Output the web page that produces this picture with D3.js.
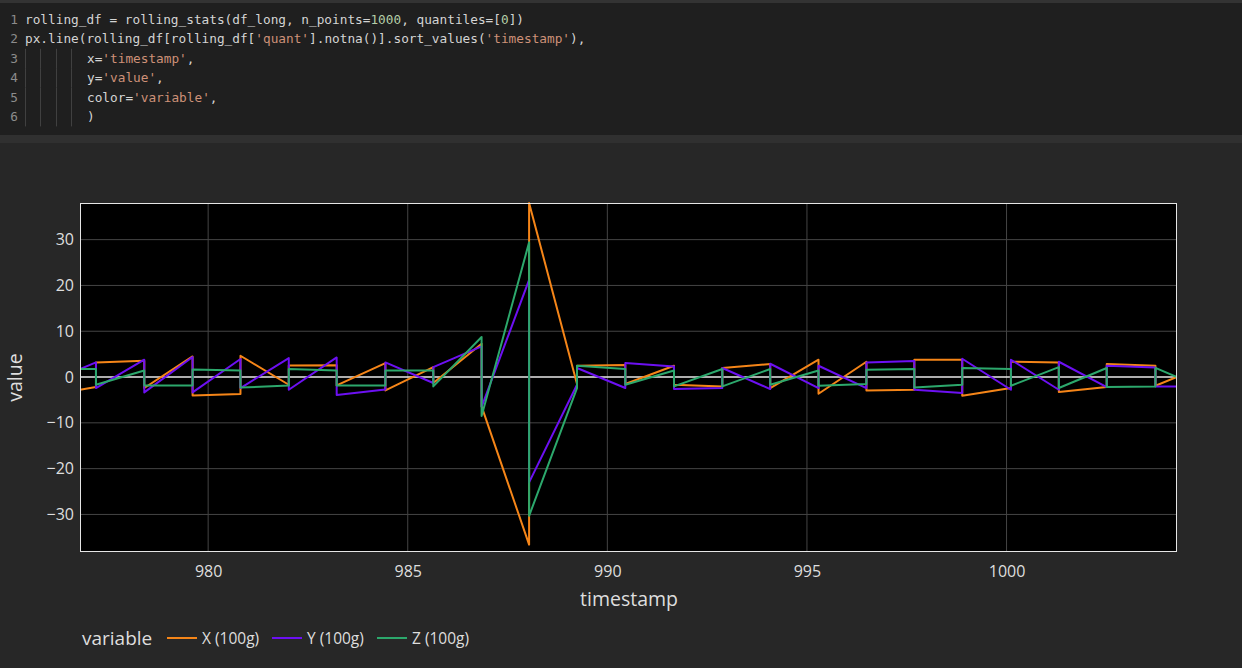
<!DOCTYPE html>
<html>
<head>
<meta charset="utf-8">
<script src="https://cdn.jsdelivr.net/npm/d3@7"></script>
<style>
  html, body { margin: 0; padding: 0; background: #1f1f1f; }
  svg { display: block; }
</style>
</head>
<body>
<svg id="chart" width="1242" height="668"></svg>
<script>
// ---------- data ----------
const codeLines = [
  [["rolling_df = rolling_stats(df_long, n_points=", "t"], ["1000", "n"], [", quantiles=[", "t"], ["0", "n"], ["])", "t"]],
  [["px.line(rolling_df[rolling_df[", "t"], ["'quant'", "s"], ["].notna()].sort_values(", "t"], ["'timestamp'", "s"], ["),", "t"]],
  [["x=", "t"], ["'timestamp'", "s"], [",", "t"]],
  [["y=", "t"], ["'value'", "s"], [",", "t"]],
  [["color=", "t"], ["'variable'", "s"], [",", "t"]],
  [[")", "t"]]
];
const codeIndent = [0, 0, 1, 1, 1, 1];

const seriesNames = ["X (100g)", "Y (100g)", "Z (100g)"];
const timestamps = [976.79, 977.19, 978.40, 979.61, 980.81, 982.02, 983.22, 984.44, 985.64, 986.85,
  988.04, 989.24, 990.45, 991.67, 992.88, 994.08, 995.29, 996.49, 997.69, 998.89,
  1000.11, 1001.31, 1002.51, 1003.73, 1004.27];
// values per timestamp (two values where the line jumps at one timestamp)
const xValues = [[-2.77], [-2.18, 3.19], [3.56, -2.40], [4.5, -4.01], [-3.71, 4.65], [-1.68, 2.54],
  [2.6, -1.83], [3.05, -2.92], [2.18, -1.31], [7.27, -6.4], [-36.6, 38.0], [-1.5, 2.47],
  [2.62, -1.53], [2.47, -1.68], [-2.04, 1.97], [2.84, -2.40], [3.78, -3.65], [3.34, -2.92],
  [-2.77, 3.78], [3.78, -4.08], [-2.4, 3.34], [3.19, -3.28], [-2.18, 2.84], [2.47, -1.9], [0]];
const yValues = [[1.75], [3.19, -2.40], [3.78, -3.36], [4.37, -3.36], [3.93, -2.40], [4.15, -2.77],
  [4.28, -3.93], [-2.70, 3.19], [-1.31, 2.18], [6.68, -6.5], [21.2, -23.0], [-1.68, 1.97],
  [-2.40, 3.05], [2.32, -2.62], [-2.40, 1.97], [-2.62, 2.9], [-2.40, 2.47], [-2.40, 3.19],
  [3.49, -2.77], [-3.49, 4.0], [-2.77, 3.78], [-2.77, 3.34], [-2.18, 2.47], [2.1, -2.04], [-2.04]];
const zValues = [[1.75], [1.75, -1.68], [1.44, -1.83], [-1.83, 1.66], [1.44, -2.3], [-1.83, 1.75],
  [1.44, -1.83], [-1.83, 1.44], [1.44, -2.04], [8.73, -8.5], [29.4, -30.3], [-2.4, 2.47],
  [1.75, -1.68], [1.44, -2.04], [1.75, -2.04], [1.75, -1.68], [1.44, -1.9], [-1.53, 1.59],
  [1.75, -2.26], [-1.68, 1.97], [1.75, -1.9], [2.18, -2.4], [1.97, -2.18], [-2.04, 2.0], [0]];
const xTicks = [980, 985, 990, 995, 1000];
const yTicks = [-30, -20, -10, 0, 10, 20, 30];
const xDomain = [976.79, 1004.27];
const yDomain = [-38.2, 38.0];

// ---------- styles ----------
const colors = ["#f58518", "#6c10f2", "#2ca86c"];
const W = 1242, H = 668;
const plot = { left: 80, right: 1177, top: 203, bottom: 552 };

const svg = d3.select("#chart");

// notebook backgrounds
svg.append("rect").attr("x", 0).attr("y", 0).attr("width", W).attr("height", H).attr("fill", "#1f1f1f");
svg.append("rect").attr("x", 0).attr("y", 0).attr("width", W).attr("height", 3).attr("fill", "#333333");
svg.append("rect").attr("x", 0).attr("y", 135).attr("width", W).attr("height", 8).attr("fill", "#303030");
svg.append("rect").attr("x", 0).attr("y", 143).attr("width", W).attr("height", H - 143).attr("fill", "#272727");

// code cell
const code = svg.append("g").attr("font-family", "'DejaVu Sans Mono', 'Liberation Mono', monospace")
  .attr("font-size", 12.75);
const codeColors = { t: "#d4d4d4", s: "#ce9178", n: "#b5cea8" };
codeLines.forEach((line, i) => {
  const y = 24 + i * 19.4;
  code.append("text").attr("x", 18).attr("y", y).attr("text-anchor", "end")
    .attr("fill", "#8c8c8c").text(i + 1);
  const t = code.append("text").attr("x", codeIndent[i] ? 87 : 25).attr("y", y).attr("xml:space", "preserve");
  line.forEach(([s, k]) => t.append("tspan").attr("fill", codeColors[k]).text(s));
  if (codeIndent[i]) {
    [25.5, 40.5, 56.5, 71.5].forEach(gx => {
      code.append("line").attr("x1", gx).attr("x2", gx).attr("y1", y - 14).attr("y2", y + 5.4)
        .attr("stroke", "#404040").attr("stroke-width", 1);
    });
  }
});

// scales
const x = d3.scaleLinear().domain(xDomain).range([plot.left, plot.right]);
const y = d3.scaleLinear().domain(yDomain).range([plot.bottom, plot.top]);

// plot background
svg.append("rect").attr("x", plot.left).attr("y", plot.top)
  .attr("width", plot.right - plot.left).attr("height", plot.bottom - plot.top).attr("fill", "#000000");

// grid
const grid = svg.append("g");
grid.selectAll(".gx").data(xTicks).join("line")
  .attr("x1", d => x(d)).attr("x2", d => x(d)).attr("y1", plot.top).attr("y2", plot.bottom)
  .attr("stroke", "#454545").attr("stroke-width", 1);
grid.selectAll(".gy").data(yTicks.filter(d => d !== 0)).join("line")
  .attr("x1", plot.left).attr("x2", plot.right).attr("y1", d => y(d)).attr("y2", d => y(d))
  .attr("stroke", "#454545").attr("stroke-width", 1);
grid.append("line").attr("x1", plot.left).attr("x2", plot.right).attr("y1", y(0)).attr("y2", y(0))
  .attr("stroke", "#e8e8e8").attr("stroke-width", 1.5);

// lines
const clip = svg.append("clipPath").attr("id", "clip").append("rect")
  .attr("x", plot.left).attr("y", plot.top - 1).attr("width", plot.right - plot.left).attr("height", plot.bottom - plot.top + 2);
const allSeries = [xValues, yValues, zValues];
const lineGen = d3.line().x(d => x(d[0])).y(d => y(d[1]));
const lines = svg.append("g").attr("clip-path", "url(#clip)");
allSeries.forEach((vals, si) => {
  const pts = timestamps.flatMap((t, i) => vals[i].map(v => [t, v]));
  lines.append("path").datum(pts).attr("d", lineGen).attr("fill", "none")
    .attr("stroke", colors[si]).attr("stroke-width", 2).attr("stroke-linejoin", "round");
});

// border
svg.append("rect").attr("x", plot.left + 0.5).attr("y", plot.top + 0.5)
  .attr("width", plot.right - plot.left - 1).attr("height", plot.bottom - plot.top - 1)
  .attr("fill", "none").attr("stroke", "#e6e6e6").attr("stroke-width", 1);

// axes
const font = "'Open Sans', 'Noto Sans', sans-serif";
const xAxis = svg.append("g").attr("transform", `translate(0,${plot.bottom})`)
  .call(d3.axisBottom(x).tickValues(xTicks).tickSize(0).tickPadding(14).tickFormat(d3.format("d")));
xAxis.select(".domain").remove();
xAxis.selectAll("text").attr("font-family", font).attr("font-size", 16).attr("fill", "#dedede");

const yAxis = svg.append("g").attr("transform", `translate(${plot.left},0)`)
  .call(d3.axisLeft(y).tickValues(yTicks).tickSize(0).tickPadding(6).tickFormat(d => d < 0 ? "\u2212" + Math.abs(d) : d));
yAxis.select(".domain").remove();
yAxis.selectAll("text").attr("font-family", font).attr("font-size", 16).attr("fill", "#dedede");

svg.append("text").attr("x", (plot.left + plot.right) / 2 + 0.5).attr("y", 606)
  .attr("text-anchor", "middle").attr("font-family", font).attr("font-size", 19.5).attr("fill", "#dedede")
  .text("timestamp");
svg.append("text").attr("transform", `translate(22,${(plot.top + plot.bottom) / 2}) rotate(-90)`)
  .attr("text-anchor", "middle").attr("font-family", font).attr("font-size", 19.5).attr("fill", "#dedede")
  .text("value");

// legend
const legend = svg.append("g").attr("font-family", font).attr("fill", "#dedede");
legend.append("text").attr("x", 82).attr("y", 645).attr("font-size", 19).text("variable");
const legendX = [167, 272, 377];
seriesNames.forEach((name, i) => {
  legend.append("line").attr("x1", legendX[i]).attr("x2", legendX[i] + 30).attr("y1", 638).attr("y2", 638)
    .attr("stroke", colors[i]).attr("stroke-width", 2);
  legend.append("text").attr("x", legendX[i] + 35).attr("y", 644).attr("font-size", 15.5).text(name);
});
</script>
</body>
</html>
